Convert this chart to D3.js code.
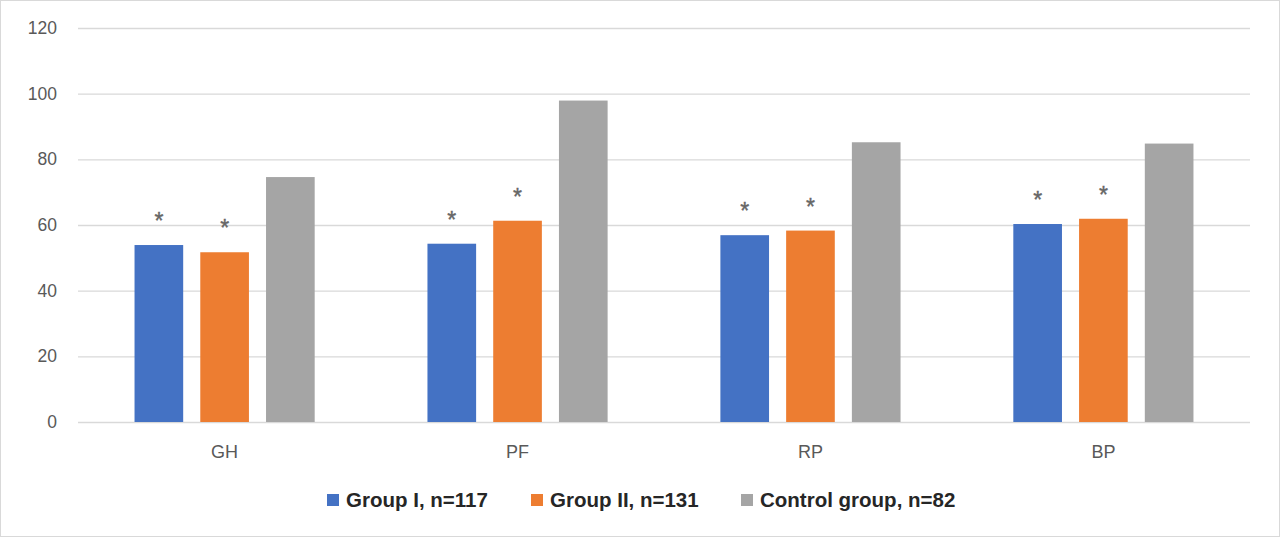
<!DOCTYPE html>
<html><head><meta charset="utf-8">
<script src="https://cdn.jsdelivr.net/npm/d3@7"></script>
<style>body{margin:0;background:#fff}svg{display:block}</style>
</head><body>
<script>
const categories = ["GH","PF","RP","BP"];
const seriesNames = ["Group I, n=117","Group II, n=131","Control group, n=82"];
const groupI = [53.9, 54.3, 56.9, 60.3];
const groupII = [51.7, 61.3, 58.3, 61.9];
const control = [74.6, 97.9, 85.2, 84.8];
const marks = [["*","*",""],["*","*",""],["*","*",""],["*","*",""]];
const yTicks = [0,20,40,60,80,100,120];
const colors = ["#4472C4","#ED7D31","#A5A5A5"];

(function(){
const W=1280,H=538;
const svg=d3.select("body").append("svg").attr("width",W).attr("height",H);
svg.append("rect").attr("x",0.5).attr("y",0.5).attr("width",W-1).attr("height",H-2)
  .attr("fill","#fff").attr("stroke","#d9d9d9");
const pl=78,pr=1250,pt=28,pb=422;
const x=d3.scaleBand().domain(categories).range([pl,pr]).paddingInner(0.385).paddingOuter(0.193);
const xs=d3.scaleBand().domain(d3.range(3)).range([0,x.bandwidth()]).paddingInner(0.26).paddingOuter(0);
const y=d3.scaleLinear().domain([0,120]).range([pb,pt]);
const font="'Liberation Sans', Arial, sans-serif";

const ya=svg.append("g").attr("transform",`translate(${pl},0)`)
  .call(d3.axisLeft(y).tickValues(yTicks).tickSize(-(pr-pl)).tickPadding(21));
ya.select(".domain").remove();
ya.selectAll("line").attr("stroke","#d9d9d9").attr("stroke-width",1.3);
ya.selectAll("text").attr("font-family",font).attr("font-size",17.5).attr("fill","#595959");

const xa=svg.append("g").attr("transform",`translate(0,${pb})`)
  .call(d3.axisBottom(x).tickSize(0).tickPadding(0));
xa.select(".domain").remove();
xa.selectAll("text").attr("font-family",font).attr("font-size",18).attr("fill","#595959")
  .attr("dy",null).attr("y",36);

const data=[groupI,groupII,control];
const g=svg.append("g");
categories.forEach((c,i)=>{
  data.forEach((s,j)=>{
    const bx=x(c)+xs(j);
    g.append("rect").attr("x",bx).attr("y",y(s[i])).attr("width",xs.bandwidth())
      .attr("height",y(0)-y(s[i])).attr("fill",colors[j]);
    if(marks[i][j]) g.append("text").attr("x",bx+xs.bandwidth()/2).attr("y",y(s[i])-16)
      .attr("text-anchor","middle").attr("font-family",font).attr("font-size",23)
      .attr("stroke","#666666").attr("stroke-width",0.4)
      .attr("fill","#666666").text(marks[i][j]);
  });
});

const legX=[327,531,741];
const leg=svg.append("g");
seriesNames.forEach((n,j)=>{
  leg.append("rect").attr("x",legX[j]).attr("y",494).attr("width",12).attr("height",12).attr("fill",colors[j]);
  leg.append("text").attr("x",legX[j]+19).attr("y",506.5).attr("font-family",font).attr("font-weight","bold")
    .attr("font-size",20.5).attr("fill","#262626").text(n);
});
})();
</script>
</body></html>
